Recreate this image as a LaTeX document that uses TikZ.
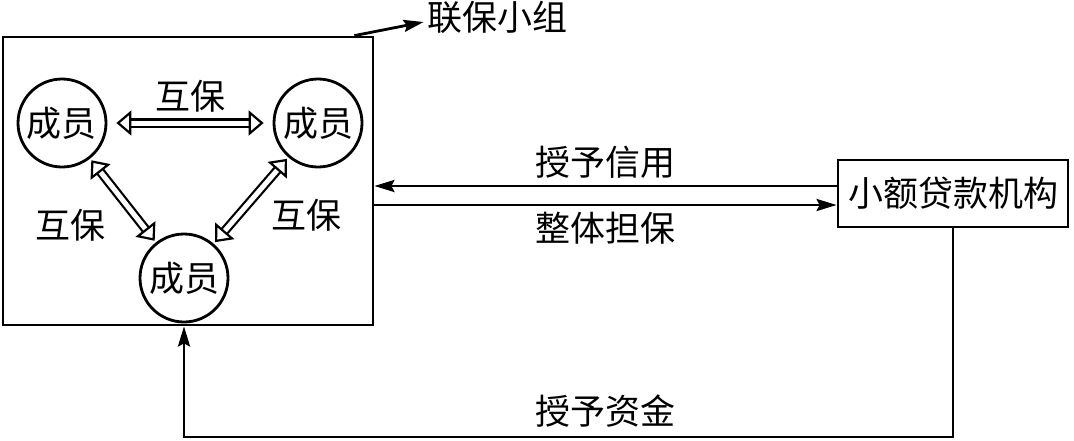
\documentclass[tikz,border=0pt]{standalone}
\usepackage{fontspec}
\newfontfamily\cjk{Noto Sans CJK SC}
\usetikzlibrary{arrows.meta, positioning}

\begin{document}
\begin{tikzpicture}[
  x=1pt, y=-1pt,
  >={Stealth[length=20pt, width=12pt, inset=3pt]},
  line width=2.8pt,
  font=\cjk\fontsize{35}{38}\selectfont,
  group box/.style={
    draw,
    minimum width=370pt,
    minimum height=288pt,
    inner sep=0pt
  },
  member/.style={
    draw,
    circle,
    minimum size=88pt,
    inner sep=0pt
  },
  lender box/.style={
    draw,
    minimum width=230pt,
    minimum height=67pt,
    inner sep=0pt
  },
  mutual arrow/.style={
    double,
    double distance=5pt,
    line width=2.2pt,
    {Triangle[open, length=15pt, width=25pt]}-{Triangle[open, length=15pt, width=25pt]},
    shorten >=2pt,
    shorten <=2pt
  },
  flow arrow/.style={
    ->
  },
  label/.style={
    inner sep=2pt
  }
]

\useasboundingbox (0,0) rectangle (1074,440);

\node[group box] (group) at (188,181) {};
\node[member] (left) at (62,123) {成员};
\node[member] (right) at (318,123) {成员};
\node[member] (bottom) at (184,278) {成员};
\node[lender box] (lender) at (953,193.5) {小额贷款机构};
\node[label] (tag) at (497,17) {联保小组};

\draw[mutual arrow, shorten >=9pt, shorten <=9pt] (left) -- node[label, above=8pt] {互保} (right);
\draw[mutual arrow] (left) -- (bottom);
\draw[mutual arrow] (bottom) -- (right);
\node[label] at (70,225) {互保};
\node[label] at (306,215) {互保};

\draw[flow arrow] ([xshift=-20pt]group.north east) -- ([yshift=-5pt]tag.west);

\draw[flow arrow] ([yshift=7.5pt]lender.west) -- node[label, above=4pt] {授予信用} ([yshift=7.5pt]lender.west -| group.east);
\draw[flow arrow] ([yshift=-11.5pt]lender.west -| group.east) -- node[label, below=4pt] {整体担保} ([yshift=-11.5pt]lender.west);

\coordinate (corner) at (184,437);
\draw[flow arrow] (lender.south) |- node[label, pos=0.726, above=6pt] {授予资金} (corner) -- (group.south -| bottom);

\end{tikzpicture}
\end{document}
